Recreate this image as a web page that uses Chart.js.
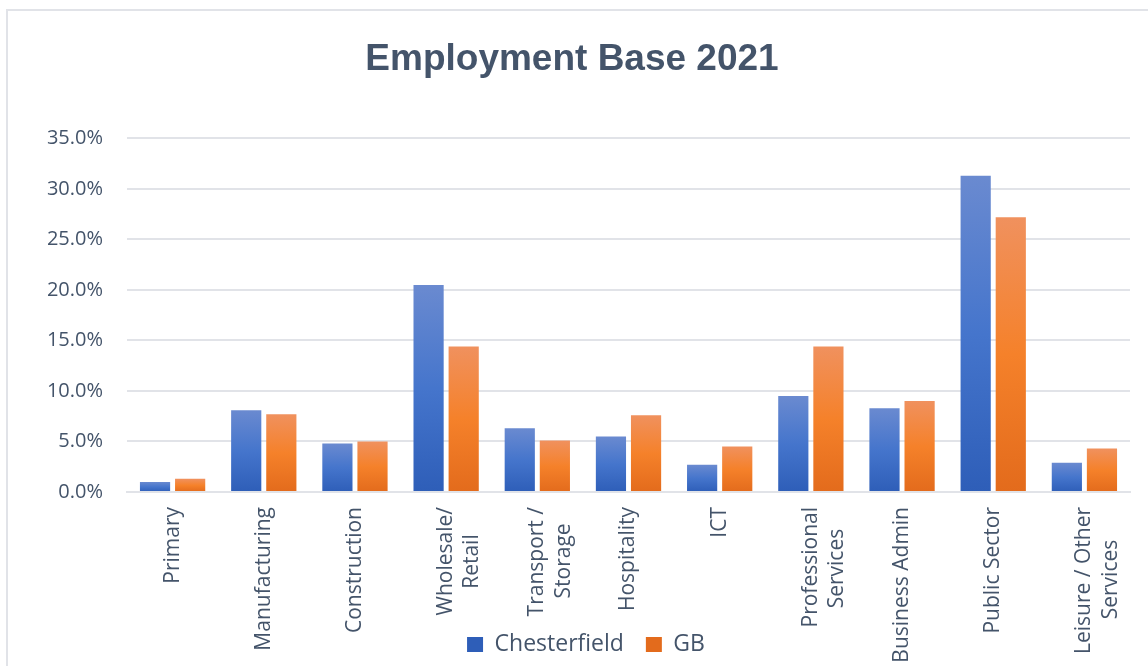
<!DOCTYPE html>
<html>
<head>
<meta charset="utf-8">
<script src="https://cdn.jsdelivr.net/npm/chart.js@4.4.1/dist/chart.umd.min.js"></script>
<style>
  html, body { margin: 0; padding: 0; background: #fff; }
  #wrap { position: relative; width: 1148px; height: 666px; overflow: hidden; }
  #frame {
    position: absolute; left: 6px; top: 9px; width: 1160px; height: 680px;
    border: 2px solid #E1E3E8; box-sizing: border-box;
  }
  #box { position: absolute; left: 0; top: 0; width: 1148px; height: 666px; }
</style>
</head>
<body>
<div id="wrap">
  <div id="frame"></div>
  <div id="box"><canvas id="myChart"></canvas></div>
</div>
<script>
// Categories (multi-line labels as arrays)
const sectors = [
  'Primary',
  'Manufacturing',
  'Construction',
  ['Wholesale/', 'Retail'],
  ['Transport /', 'Storage'],
  'Hospitality',
  'ICT',
  ['Professional', 'Services'],
  'Business Admin',
  'Public Sector',
  ['Leisure / Other', 'Services'],
];

// Share of employment, %
const chesterfield = [1.0, 8.1, 4.8, 20.5, 6.3, 5.5, 2.7, 9.5, 8.3, 31.3, 2.9];
const gb = [1.3, 7.7, 5.0, 14.4, 5.1, 7.6, 4.5, 14.4, 9.0, 27.2, 4.3];

// Y axis range / steps
const yMax = 35;
const yStep = 5;

const textColor = '#44546A';
const gridColor = '#E1E3E8';
const tickFont = { family: "'Open Sans', sans-serif", size: 21, lineHeight: 1.25 };

// Vertical gradient for each bar, light at the top and darker at the base.
function barFill(top, mid, bottom) {
  return (ctx) => {
    const chart = ctx.chart;
    if (ctx.type !== 'data' || !chart.chartArea) return mid;
    const y = chart.scales.y;
    const y0 = y.getPixelForValue(ctx.raw);
    const y1 = y.getPixelForValue(0);
    if (!isFinite(y0) || !isFinite(y1) || y0 === y1) return mid;
    const g = chart.ctx.createLinearGradient(0, y0, 0, y1);
    g.addColorStop(0, top);
    g.addColorStop(0.5, mid);
    g.addColorStop(1, bottom);
    return g;
  };
}

// Rotated labels are end-aligned by Chart.js; pad the shorter line with
// trailing no-break spaces so the two lines sit centred on each other.
const NBSP = '\u00A0';
const measureCtx = document.createElement('canvas').getContext('2d');
function centreLines(label) {
  if (!Array.isArray(label)) return label;
  measureCtx.font = tickFont.size + 'px ' + tickFont.family;
  const widths = label.map((l) => measureCtx.measureText(l).width);
  const maxW = Math.max(...widths);
  const sp = measureCtx.measureText(NBSP).width || tickFont.size * 0.26;
  return label.map((l, i) => l + NBSP.repeat(Math.round((maxW - widths[i]) / 2 / sp)));
}

// The long labels run down into the legend row, so don't clip them to the axis box.
// Also nudge the legend a little right, where the original has it.
const labelOverflow = {
  id: 'labelOverflow',
  afterLayout(chart) {
    chart.scales.x.bottom = chart.height;
    if (chart.legend) {
      chart.legend.left += 14;
      chart.legend.right += 14;
    }
  },
};

const data = {
  labels: sectors,
  datasets: [
    {
      label: 'Chesterfield',
      data: chesterfield,
      backgroundColor: barFill('#6A8AD0', '#4575CC', '#2E5EB8'),
    },
    {
      label: 'GB',
      data: gb,
      backgroundColor: barFill('#F0915E', '#F5812A', '#E36B1C'),
    },
  ],
};

const config = {
  type: 'bar',
  data: data,
  plugins: [labelOverflow],
  options: {
    responsive: true,
    maintainAspectRatio: false,
    animation: false,
    categoryPercentage: 0.77,
    barPercentage: 0.86,
    layout: { padding: { left: 14, right: 18, top: 20, bottom: 0 } },
    plugins: {
      title: {
        display: true,
        text: 'Employment Base 2021',
        color: textColor,
        font: { family: "'Liberation Sans', Arial, sans-serif", size: 37, weight: 'bold' },
        padding: { top: 18, bottom: 56 },
      },
      legend: {
        position: 'bottom',
        labels: {
          color: textColor,
          font: { family: "'Open Sans', sans-serif", size: 23 },
          boxWidth: 16,
          boxHeight: 15,
          padding: 22,
        },
      },
      tooltip: { enabled: false },
    },
    scales: {
      x: {
        grid: { display: false, drawTicks: false },
        border: { display: true, color: gridColor, width: 2 },
        ticks: {
          color: textColor,
          font: tickFont,
          minRotation: 90,
          maxRotation: 90,
          autoSkip: false,
          padding: 15,
          callback: function (value) {
            return centreLines(this.getLabelForValue(value));
          },
        },
        afterFit: (scale) => {
          scale.height = 119;
          // the rotated end labels fit inside their category, no extra side room needed
          scale.paddingLeft = 0;
          scale.paddingRight = 0;
        },
      },
      y: {
        min: 0,
        max: yMax,
        grid: { color: gridColor, lineWidth: 2, drawTicks: false },
        border: { display: false },
        ticks: {
          stepSize: yStep,
          color: textColor,
          font: { family: "'Open Sans', sans-serif", size: 20 },
          padding: 24,
          callback: (v) => v.toFixed(1) + '%',
        },
        afterFit: (scale) => { scale.width = 113; },
      },
    },
  },
};

const chart = new Chart(document.getElementById('myChart'), config);
</script>
</body>
</html>
